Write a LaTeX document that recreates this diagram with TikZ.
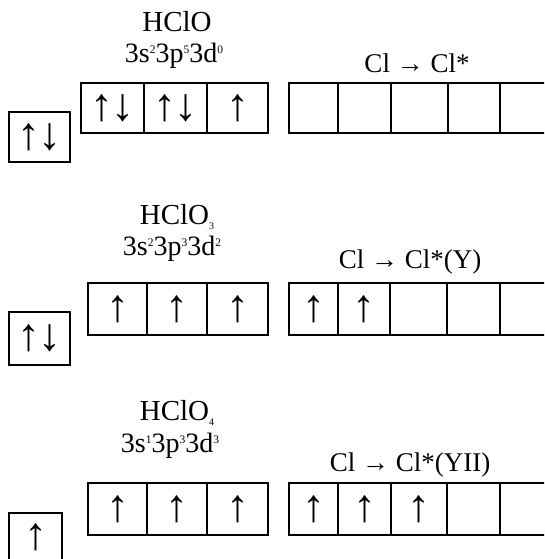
\documentclass[tikz,border=0pt]{standalone}
\usepackage{fontspec}
\setmainfont{Liberation Serif}
\newcommand\lblfont{\fontsize{27}{30}\selectfont}
\newcommand\cfgfont{\fontsize{28}{30}\selectfont}
\newcommand\frmfont{\fontsize{29}{32}\selectfont}
\newcommand\arrfont{\fontsize{46}{50}\selectfont}
\newcommand\sps[1]{\raisebox{0.34em}{\fontsize{11.5}{11.5}\selectfont #1}}
\newcommand\sbs[1]{\raisebox{-0.18em}{\fontsize{10}{10}\selectfont #1}}
\tikzset{
  cell/.style={draw, line width=1.3pt, inner sep=0pt, font=\arrfont},
  lbl/.style={inner sep=0pt, font=\lblfont},
  cfg/.style={inner sep=0pt, font=\cfgfont},
  frm/.style={inner sep=0pt, font=\frmfont}
}
% \cellat{name}{x1}{x2}{y1}{y2}{content}
\newcommand\cellat[6]{\node[cell, minimum width={(#3-#2)*1pt}, minimum height={(#5-#4)*1pt}] (#1) at ({(#2+#3)/2},{(#4+#5)/2}) {#6};}
\begin{document}
\begin{tikzpicture}[x=1pt,y=-1pt]
\useasboundingbox (0,0) rectangle (544,559);
\clip (0,0) rectangle (544,559);
% ---------- Row 1: HClO ----------
\node[frm] (f1) at (177,22) {HClO};
\node[cfg] (c1) at (174,56) {3s\sps{2}3p\sps{5}3d\sps{0}};
\node[lbl] (e1) at (417,63) {Cl → Cl*};
\cellat{s1}{9}{70}{112}{162}{↑\kern-2pt↓}
\cellat{p1a}{81}{144}{83}{133}{↑\kern-2pt↓}
\cellat{p1b}{144}{207}{83}{133}{↑\kern-2pt↓}
\cellat{p1c}{207}{268}{83}{133}{↑}
\cellat{d1a}{289}{338}{83}{133}{}
\cellat{d1b}{338}{391}{83}{133}{}
\cellat{d1c}{391}{448}{83}{133}{}
\cellat{d1d}{448}{500}{83}{133}{}
\cellat{d1e}{500}{552}{83}{133}{}
% ---------- Row 2: HClO3 ----------
\node[frm] (f2) at (177,217) {HClO\sbs{3}};
\node[cfg] (c2) at (172,249) {3s\sps{2}3p\sps{3}3d\sps{2}};
\node[lbl] (e2) at (410,262) {Cl → Cl*(Y)};
\cellat{s2}{9}{70}{312}{365}{↑\kern-2pt↓}
\cellat{p2a}{88}{147}{283}{335}{↑}
\cellat{p2b}{147}{207}{283}{335}{↑}
\cellat{p2c}{207}{268}{283}{335}{↑}
\cellat{d2a}{289}{338}{283}{335}{↑}
\cellat{d2b}{338}{390}{283}{335}{↑}
\cellat{d2c}{390}{447}{283}{335}{}
\cellat{d2d}{447}{500}{283}{335}{}
\cellat{d2e}{500}{552}{283}{335}{}
% ---------- Row 3: HClO4 ----------
\node[frm] (f3) at (177,413) {HClO\sbs{4}};
\node[cfg] (c3) at (170,446) {3s\sps{1}3p\sps{3}3d\sps{3}};
\node[lbl] (e3) at (410,465) {Cl → Cl*(YII)};
\cellat{s3}{9}{62}{513}{566}{\raisebox{6pt}{↑}}
\cellat{p3a}{88}{147}{483}{535}{↑}
\cellat{p3b}{147}{207}{483}{535}{↑}
\cellat{p3c}{207}{268}{483}{535}{↑}
\cellat{d3a}{289}{338}{483}{535}{↑}
\cellat{d3b}{338}{391}{483}{535}{↑}
\cellat{d3c}{391}{447}{483}{535}{↑}
\cellat{d3d}{447}{500}{483}{535}{}
\cellat{d3e}{500}{552}{483}{535}{}
\end{tikzpicture}
\end{document}
